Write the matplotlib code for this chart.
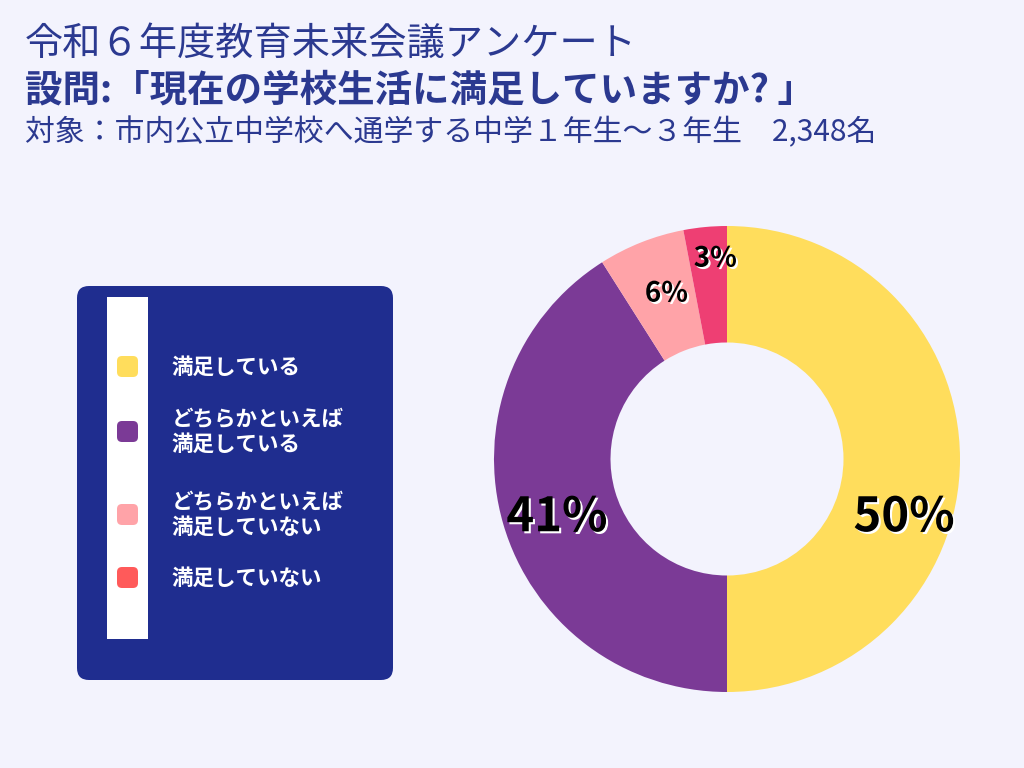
import matplotlib
matplotlib.use("Agg")
import matplotlib.pyplot as plt
from matplotlib.patches import FancyBboxPatch, Rectangle
import matplotlib.patheffects as pe

plt.rcParams["font.family"] = "Noto Sans CJK JP"

categories = ["満足している", "どちらかといえば\n満足している", "どちらかといえば\n満足していない", "満足していない"]
values = [50, 41, 6, 3]
pie_colors = ["#FFDD5C", "#7B3A96", "#FFA3A8", "#EE3F73"]
legend_colors = ["#FFDD5C", "#7B3A96", "#FFA3A8", "#FF5A5A"]
label_pos = [(0.76, -0.25), (-0.73, -0.25), (-0.26, 0.71), (-0.05, 0.86)]
label_sizes = [34, 34, 20, 20]

bg = "#F3F3FD"
fig = plt.figure(figsize=(10.24, 7.68), dpi=100, facecolor=bg)
ax = fig.add_axes([0, 0, 1, 1])
ax.set_xlim(0, 1024); ax.set_ylim(768, 0); ax.axis("off")

tc = "#2B3990"
ax.text(25, 44, "令和６年度教育未来会議アンケート", fontsize=27.5, color=tc, va="center")
ax.text(25, 90, "設問:「現在の学校生活に満足していますか? 」", fontsize=27, color=tc, va="center", fontweight="bold")
ax.text(25, 133, "対象：市内公立中学校へ通学する中学１年生～３年生　2,348名", fontsize=21.5, color=tc, va="center")

ax.add_patch(FancyBboxPatch((77, 286), 316, 394, boxstyle="round,pad=0,rounding_size=12",
                            fc="#1F2D8F", ec="none"))
ax.add_patch(Rectangle((107, 297), 41, 342, fc="white", ec="none"))
ys = [367, 432, 515, 578]
for c, lab, y in zip(legend_colors, categories, ys):
    ax.add_patch(FancyBboxPatch((117, y - 11), 21, 21, boxstyle="round,pad=0,rounding_size=5", fc=c, ec="none"))
    ax.text(172, y, lab, fontsize=15.5, color="white", fontweight="bold", va="center", linespacing=1.25)

r = 233
pax = fig.add_axes([(727 - r) / 1024, (768 - 459 - r) / 768, 2 * r / 1024, 2 * r / 768])
pax.pie(values, colors=pie_colors, startangle=90, counterclock=False, radius=1,
        wedgeprops=dict(width=0.5, edgecolor="none"))
pax.set_xlim(-1, 1); pax.set_ylim(-1, 1); pax.set_aspect("auto"); pax.axis("off")
for v, (x, y), s in zip(values, label_pos, label_sizes):
    pax.text(x, y, f"{v}%", fontsize=s, fontweight="bold", ha="center", va="center", color="black",
             path_effects=[pe.withSimplePatchShadow(offset=(1.5, -1.5), shadow_rgbFace="white", alpha=1)])

fig.savefig("out.png", dpi=100, facecolor=bg)
